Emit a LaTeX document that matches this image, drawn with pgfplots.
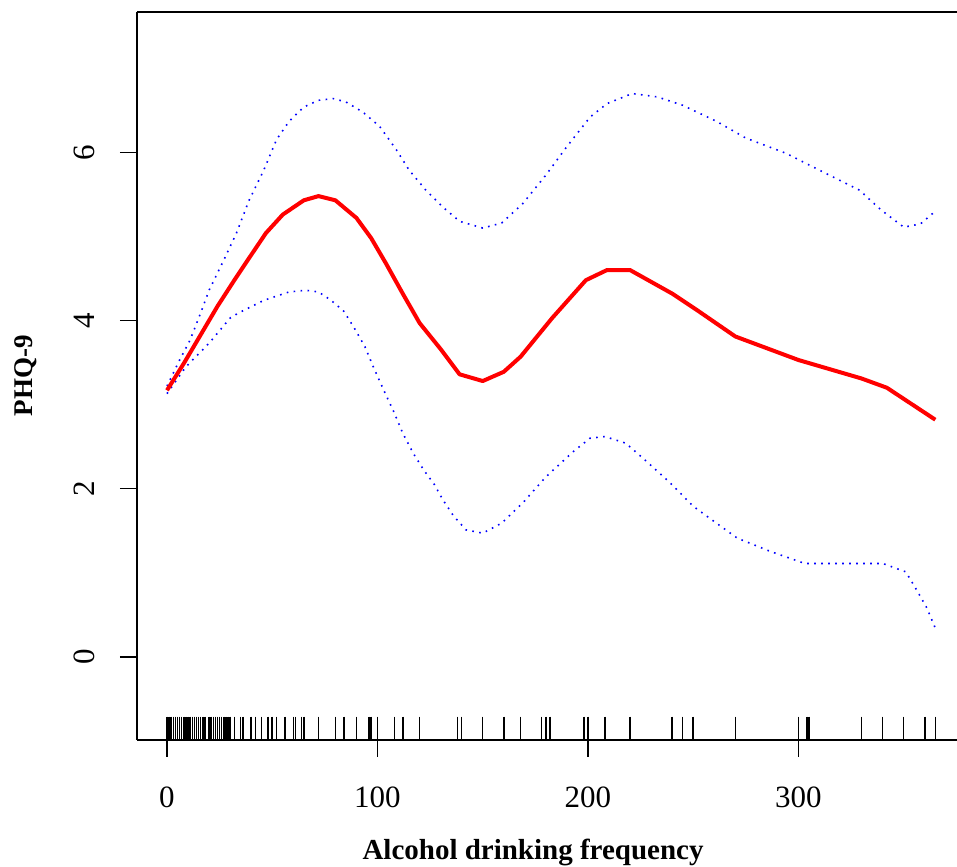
\documentclass[border=0pt]{standalone}
\usepackage{fontspec}
\setmainfont{Liberation Serif}
\usepackage{pgfplots}
\usepackage{pgfplotstable}
\pgfplotsset{compat=1.18}

% fitted curve and pointwise band
\pgfplotstableread{
x y
0 3.17
8 3.49
16 3.83
24 4.17
32 4.48
40 4.78
47 5.04
55 5.26
65 5.43
72 5.48
80 5.43
90 5.22
97 4.98
104 4.68
112 4.32
120 3.97
130 3.66
139 3.36
150 3.28
160 3.39
168 3.57
183 4.03
199 4.48
209 4.60
220 4.60
240 4.32
252 4.12
270 3.81
300 3.53
330 3.31
342 3.20
365 2.82
}\fitdata

\pgfplotstableread{
x y
0 3.22
6 3.53
11 3.77
16 4.09
20 4.36
27 4.72
33 5.04
39 5.43
46 5.79
52 6.15
58 6.37
65 6.54
72 6.62
79 6.64
85 6.60
93 6.48
101 6.31
109 6.03
115 5.79
123 5.55
131 5.35
139 5.18
150 5.10
159 5.16
169 5.39
180 5.73
190 6.07
201 6.42
209 6.58
221 6.70
233 6.66
245 6.56
261 6.37
275 6.17
294 5.99
313 5.75
329 5.55
339 5.32
350 5.11
358 5.15
365 5.30
}\updata

\pgfplotstableread{
x y
0 3.13
9 3.45
20 3.73
30 4.03
34 4.09
46 4.24
58 4.34
66 4.36
72 4.34
78 4.24
84 4.11
89 3.91
94 3.69
98 3.45
103 3.17
108 2.90
112 2.66
117 2.42
122 2.22
127 2.05
131 1.87
136 1.68
142 1.51
150 1.47
159 1.59
169 1.83
180 2.14
193 2.44
201 2.60
208 2.62
218 2.54
228 2.32
239 2.07
250 1.79
261 1.59
271 1.41
287 1.25
303 1.11
340 1.11
351 1.01
356 0.80
361 0.58
365 0.34
}\lowdata

\begin{document}
\begin{tikzpicture}
\begin{axis}[width=410pt,height=364pt,scale only axis,
  xmin=-14.25,xmax=375.3,ymin=-0.99,ymax=7.67,
  axis lines*=left,
  axis line style={-,line width=0.8pt},
  x axis line style={-},y axis line style={-},
  clip=false,
  xtick={0,100,200,300},ytick={0,2,4,6},
  tick align=outside,major tick length=8.5pt,
  tick style={line width=0.8pt,black},
  /pgf/number format/assume math mode=true,
  ticklabel style={font=\fontsize{15.5}{18}\selectfont},
  xticklabel style={anchor=north,inner sep=0pt},xticklabel shift=14.5pt,
  yticklabel style={rotate=90,anchor=south,inner sep=0pt},yticklabel shift=12.5pt,
  xlabel={Alcohol drinking frequency},
  ylabel={PHQ-9},
  every axis x label/.style={at={(axis cs:173.9,-2.41)},anchor=base,
    font=\bfseries\fontsize{14.5}{17}\selectfont},
  every axis y label/.style={at={(axis cs:-61.75,3.34)},rotate=90,anchor=south,
    inner sep=0pt,font=\bfseries\fontsize{13.5}{16}\selectfont}]

  \draw[line width=0.8pt] (rel axis cs:0,1) -- (rel axis cs:1,1);
  \coordinate (A) at (rel axis cs:0,0);
  \coordinate (B) at (rel axis cs:1,1);

  \addplot[blue,line width=0.8pt,dash pattern=on 0.8pt off 2.7pt] table {\updata};
  \addplot[blue,line width=0.8pt,dash pattern=on 0.8pt off 2.7pt] table {\lowdata};
  \addplot[red,line width=2pt,line join=round] table {\fitdata};

  % rug of observed values
  \addplot[only marks,mark=|,mark size=5.75pt,mark options={black,line width=0.75pt}]
    coordinates {(0,-0.85) (1,-0.85) (2,-0.85) (3,-0.85) (4,-0.85) (5,-0.85)
      (6,-0.85) (7,-0.85) (8,-0.85) (9,-0.85) (10,-0.85) (11,-0.85) (12,-0.85)
      (13,-0.85) (14,-0.85) (15,-0.85) (16,-0.85) (17,-0.85) (18,-0.85) (20,-0.85)
      (21,-0.85) (22,-0.85) (23,-0.85) (24,-0.85) (25,-0.85) (26,-0.85) (27,-0.85)
      (28,-0.85) (29,-0.85) (30,-0.85) (32,-0.85) (35,-0.85) (36,-0.85) (40,-0.85)
      (42,-0.85) (45,-0.85) (48,-0.85) (50,-0.85) (52,-0.85) (56,-0.85) (60,-0.85)
      (61,-0.85) (64,-0.85) (65,-0.85) (72,-0.85) (80,-0.85) (84,-0.85) (90,-0.85)
      (96,-0.85) (97,-0.85) (100,-0.85) (108,-0.85) (112,-0.85) (120,-0.85)
      (138,-0.85) (140,-0.85) (150,-0.85) (160,-0.85) (168,-0.85) (178,-0.85)
      (180,-0.85) (182,-0.85) (198,-0.85) (200,-0.85) (208,-0.85) (220,-0.85)
      (240,-0.85) (245,-0.85) (250,-0.85) (270,-0.85) (300,-0.85) (304,-0.85)
      (305,-0.85) (330,-0.85) (340,-0.85) (350,-0.85) (360,-0.85) (365,-0.85)};
\end{axis}
\pgfresetboundingbox
\path[use as bounding box] ([xshift=-68.5pt,yshift=-63.5pt]A) rectangle ([yshift=6pt]B);
\end{tikzpicture}
\end{document}
